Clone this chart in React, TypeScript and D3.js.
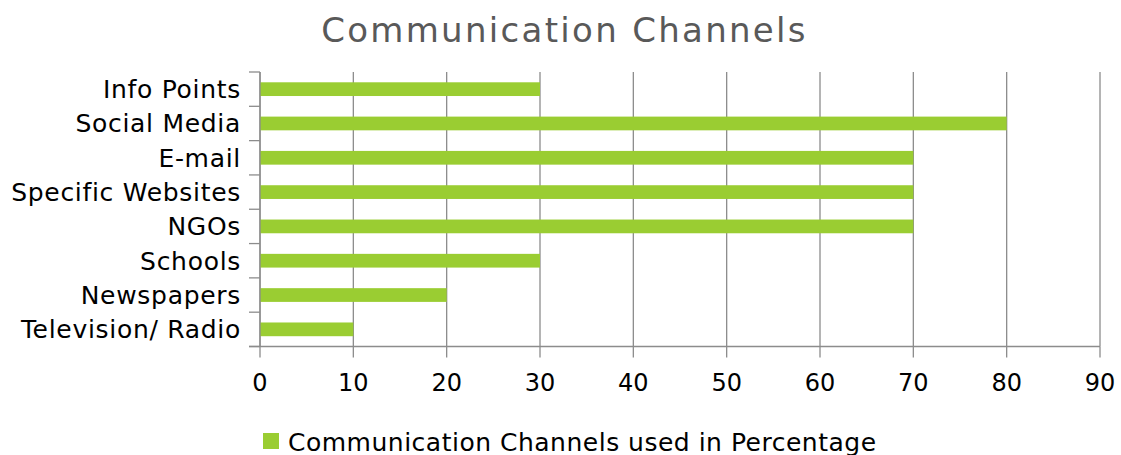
import { useEffect, useRef } from 'react'
import * as d3 from 'd3'

const CATEGORIES = ['Info Points', 'Social Media', 'E-mail', 'Specific Websites', 'NGOs', 'Schools', 'Newspapers', 'Television/ Radio']
const VALUES = [30, 80, 70, 70, 70, 30, 20, 10]
const X_TICKS = [0, 10, 20, 30, 40, 50, 60, 70, 80, 90]
const TITLE = 'Communication Channels'
const SERIES_NAME = 'Communication Channels used in Percentage'

export default function App() {
  const svgRef = useRef<SVGSVGElement>(null)

  useEffect(() => {
    if (!svgRef.current) return
    const W = 1121
    const H = 455
    const margin = { top: 72, right: 21, bottom: 108.5, left: 260 }
    const iW = W - margin.left - margin.right
    const iH = H - margin.top - margin.bottom
    const font = 'DejaVu Sans, sans-serif'
    const gridColor = '#8c8c8c'
    const barColor = '#9acd32'

    const svg = d3.select(svgRef.current).attr('viewBox', `0 0 ${W} ${H}`)
    svg.selectAll('*').remove()

    const g = svg.append('g').attr('transform', `translate(${margin.left},${margin.top})`)

    const x = d3.scaleLinear().domain([0, 90]).range([0, iW])
    const y = d3.scaleBand<string>().domain(CATEGORIES).range([0, iH]).paddingInner(0.6).paddingOuter(0.3)
    const yb = d3.scaleBand<string>().domain(CATEGORIES).range([0, iH])

    // vertical gridlines
    X_TICKS.forEach((t) => {
      g.append('line').attr('x1', x(t)).attr('x2', x(t)).attr('y1', 0).attr('y2', iH)
        .attr('stroke', gridColor).attr('stroke-width', 1.3)
    })

    // bars
    g.selectAll('rect.bar').data(CATEGORIES).enter().append('rect')
      .attr('x', x(0))
      .attr('y', (d) => y(d)!)
      .attr('width', (_d, i) => x(VALUES[i]) - x(0))
      .attr('height', y.bandwidth())
      .attr('fill', barColor)

    // left axis with category boundary ticks
    g.append('line').attr('x1', 0).attr('x2', 0).attr('y1', 0).attr('y2', iH)
      .attr('stroke', gridColor).attr('stroke-width', 1.3)
    const bounds = [...CATEGORIES.map((c) => yb(c)!), iH]
    bounds.forEach((b) => {
      g.append('line').attr('x1', -11).attr('x2', 0).attr('y1', b).attr('y2', b)
        .attr('stroke', gridColor).attr('stroke-width', 1.3)
    })
    CATEGORIES.forEach((c) => {
      g.append('text').attr('x', -19).attr('y', yb(c)! + yb.bandwidth() / 2)
        .attr('dy', '0.36em').attr('text-anchor', 'end')
        .attr('font-family', font).attr('font-size', 25).attr('letter-spacing', 0.7).attr('fill', '#000')
        .text(c)
    })

    // bottom axis
    g.append('line').attr('x1', -11).attr('x2', iW).attr('y1', iH).attr('y2', iH)
      .attr('stroke', gridColor).attr('stroke-width', 1.3)
    X_TICKS.forEach((t) => {
      g.append('line').attr('x1', x(t)).attr('x2', x(t)).attr('y1', iH).attr('y2', iH + 11)
        .attr('stroke', gridColor).attr('stroke-width', 1.3)
      g.append('text').attr('x', x(t)).attr('y', iH + 44)
        .attr('text-anchor', 'middle')
        .attr('font-family', font).attr('font-size', 24).attr('fill', '#000')
        .text(t)
    })

    // title
    svg.append('text').attr('x', 564.5).attr('y', 41.5).attr('text-anchor', 'middle')
      .attr('font-family', font).attr('font-size', 34).attr('letter-spacing', 2.3).attr('fill', '#595959')
      .text(TITLE)

    // legend
    svg.append('rect').attr('x', 263).attr('y', 433).attr('width', 16).attr('height', 16).attr('fill', barColor)
    svg.append('text').attr('x', 288).attr('y', 450.5)
      .attr('font-family', font).attr('font-size', 25).attr('letter-spacing', 0.5).attr('fill', '#000')
      .text(SERIES_NAME)

    return () => { svg.selectAll('*').remove() }
  }, [])

  return (
    <svg ref={svgRef} style={{ width: 1121, height: 455, display: 'block', position: 'absolute', left: 0, top: 0 }} />
  )
}
